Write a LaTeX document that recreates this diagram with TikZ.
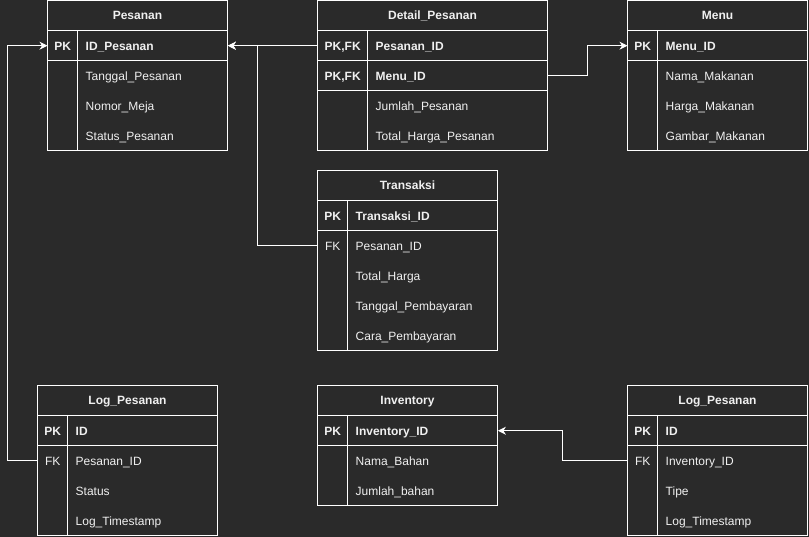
\documentclass[tikz,border=0pt]{standalone}
\usepackage{fontspec}
\setmainfont{Liberation Sans}
\usepackage{xcolor}
\usepackage{tikz}
\usetikzlibrary{arrows.meta}
\definecolor{bg}{HTML}{2A2A2A}
\definecolor{fg}{HTML}{F0F0F0}
\definecolor{edge}{HTML}{FFFFFF}
\tikzset{
  tbl/.style={draw=edge, line width=1pt},
  hdr/.style={font=\bfseries, text=fg, minimum height=30pt, inner sep=0pt, text height=11pt, text depth=2pt},
  keyc/.style={text=fg, minimum width=#1, minimum height=30pt, inner sep=0pt, anchor=north west, text height=11pt, text depth=2pt},
  fld/.style={text=fg, text width=#1, minimum height=30pt, inner xsep=8pt, inner ysep=0pt, anchor=north west, align=left, text height=11pt, text depth=2pt},
  pk/.style={font=\bfseries},
  rel/.style={draw=edge, line width=1pt, -{Stealth[length=8pt, width=8pt, inset=2.5pt]}}
}
\newcommand{\ErFrame}[5]{%
  \draw[tbl] (#1,#2) rectangle (#3,#4);
  \draw[tbl] (#1,#2+30) -- (#3,#2+30);
  \draw[tbl] (#5,#2+30) -- (#5,#4);
}

\begin{document}
\fontsize{12}{14}\selectfont
\begin{tikzpicture}[x=1pt, y=-1pt]
  \fill[bg] (0,0) rectangle (809,537);
  \useasboundingbox (0,0) rectangle (809,537);

  \begin{scope}[shift={(0.5,0.5)}]
  % Pesanan
  \ErFrame{47}{0}{227}{150}{77}
  \draw[tbl] (47,60) -- (227,60);
  \node[hdr] (pes-h) at (137,15) {Pesanan};
  \node[pk, keyc=30pt] (pes-pk) at (47,30) {PK};
  \node[pk, fld=134pt] (pes-id) at (77,30) {ID\_Pesanan};
  \node[fld=134pt] (pes-tgl) at (77,60) {Tanggal\_Pesanan};
  \node[fld=134pt] (pes-meja) at (77,90) {Nomor\_Meja};
  \node[fld=134pt] (pes-status) at (77,120) {Status\_Pesanan};

  % Detail_Pesanan
  \ErFrame{317}{0}{547}{150}{367}
  \draw[tbl] (317,60) -- (547,60);
  \draw[tbl] (317,90) -- (547,90);
  \node[hdr] (det-h) at (432,15) {Detail\_Pesanan};
  \node[pk, keyc=50pt] (det-pk1) at (317,30) {PK,FK};
  \node[pk, fld=164pt] (det-pes) at (367,30) {Pesanan\_ID};
  \node[pk, keyc=50pt] (det-pk2) at (317,60) {PK,FK};
  \node[pk, fld=164pt] (det-menu) at (367,60) {Menu\_ID};
  \node[fld=164pt] (det-jml) at (367,90) {Jumlah\_Pesanan};
  \node[fld=164pt] (det-total) at (367,120) {Total\_Harga\_Pesanan};

  % Menu
  \ErFrame{627}{0}{807}{150}{657}
  \draw[tbl] (627,60) -- (807,60);
  \node[hdr] (men-h) at (717,15) {Menu};
  \node[pk, keyc=30pt] (men-pk) at (627,30) {PK};
  \node[pk, fld=134pt] (men-id) at (657,30) {Menu\_ID};
  \node[fld=134pt] (men-nama) at (657,60) {Nama\_Makanan};
  \node[fld=134pt] (men-harga) at (657,90) {Harga\_Makanan};
  \node[fld=134pt] (men-gambar) at (657,120) {Gambar\_Makanan};

  % Transaksi
  \ErFrame{317}{170}{497}{350}{347}
  \draw[tbl] (317,230) -- (497,230);
  \node[hdr] (tra-h) at (407,185) {Transaksi};
  \node[pk, keyc=30pt] (tra-pk) at (317,200) {PK};
  \node[pk, fld=134pt] (tra-id) at (347,200) {Transaksi\_ID};
  \node[keyc=30pt] (tra-fk) at (317,230) {FK};
  \node[fld=134pt] (tra-pes) at (347,230) {Pesanan\_ID};
  \node[fld=134pt] (tra-total) at (347,260) {Total\_Harga};
  \node[fld=134pt] (tra-tgl) at (347,290) {Tanggal\_Pembayaran};
  \node[fld=134pt] (tra-cara) at (347,320) {Cara\_Pembayaran};

  % Log_Pesanan (pesanan)
  \ErFrame{37}{385}{217}{535}{67}
  \draw[tbl] (37,445) -- (217,445);
  \node[hdr] (logp-h) at (127,400) {Log\_Pesanan};
  \node[pk, keyc=30pt] (logp-pk) at (37,415) {PK};
  \node[pk, fld=134pt] (logp-id) at (67,415) {ID};
  \node[keyc=30pt] (logp-fk) at (37,445) {FK};
  \node[fld=134pt] (logp-pes) at (67,445) {Pesanan\_ID};
  \node[fld=134pt] (logp-status) at (67,475) {Status};
  \node[fld=134pt] (logp-time) at (67,505) {Log\_Timestamp};

  % Inventory
  \ErFrame{317}{385}{497}{505}{347}
  \draw[tbl] (317,445) -- (497,445);
  \node[hdr] (inv-h) at (407,400) {Inventory};
  \node[pk, keyc=30pt] (inv-pk) at (317,415) {PK};
  \node[pk, fld=134pt] (inv-id) at (347,415) {Inventory\_ID};
  \node[fld=134pt] (inv-nama) at (347,445) {Nama\_Bahan};
  \node[fld=134pt] (inv-jml) at (347,475) {Jumlah\_bahan};

  % Log_Pesanan (inventory)
  \ErFrame{627}{385}{807}{535}{657}
  \draw[tbl] (627,445) -- (807,445);
  \node[hdr] (logi-h) at (717,400) {Log\_Pesanan};
  \node[pk, keyc=30pt] (logi-pk) at (627,415) {PK};
  \node[pk, fld=134pt] (logi-id) at (657,415) {ID};
  \node[keyc=30pt] (logi-fk) at (627,445) {FK};
  \node[fld=134pt] (logi-inv) at (657,445) {Inventory\_ID};
  \node[fld=134pt] (logi-tipe) at (657,475) {Tipe};
  \node[fld=134pt] (logi-time) at (657,505) {Log\_Timestamp};

  % relations
  \draw[rel] (det-pk1.west) -- (pes-id.east);
  \draw[rel] (tra-fk.west) -- ++(-60,0) |- (pes-id.east);
  \draw[rel] (det-menu.east) -- ++(40,0) |- (men-pk.west);
  \draw[rel] (logp-fk.west) -- ++(-30,0) |- (pes-pk.west);
  \draw[rel] (logi-fk.west) -- ++(-65,0) |- (inv-id.east);
  \end{scope}
\end{tikzpicture}
\end{document}
